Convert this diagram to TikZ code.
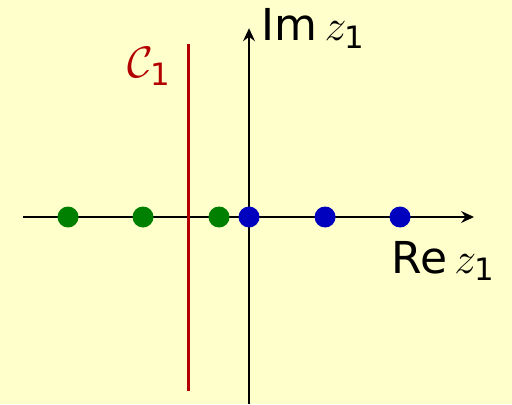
\RequirePackage{fix-cm}
\documentclass[tikz,border=0pt]{standalone}
\usepackage{amsmath,amssymb}
\usepackage{fontspec}
\setmainfont{DejaVu Sans}
\setsansfont{DejaVu Sans}
\usepackage{tikz}
\usepackage{xcolor}
\usetikzlibrary{arrows.meta,positioning,calc}
\definecolor{BgYellow}{RGB}{255,255,204}
\definecolor{ContourRed}{RGB}{179,0,0}
\definecolor{PoleGreen}{RGB}{0,128,0}
\definecolor{PoleBlue}{RGB}{0,0,191}
\tikzset{
  pole/.style={circle, inner sep=0pt, minimum size=10.5pt},
  axislabel/.style={inner sep=0pt, anchor=base west, font=\fontsize{22}{26}\selectfont}
}

\begin{document}
\begin{tikzpicture}[x=1.3268cm, y=1.3268cm]
      \fill[BgYellow] (-3.298,-2.477) rectangle (3.483,2.874);
      \useasboundingbox (-3.298,-2.477) rectangle (3.483,2.874);
      % axes
      \coordinate (reL) at (-2.99,0);
      \coordinate (reR) at (2.98,0);
      \coordinate (imB) at (0,-2.48);
      \coordinate (imT) at (0,2.50);
      \draw[-{Stealth[length=6.5pt, width=6pt, inset=2.2pt]}, line width=0.7pt] (reL)--(reR);
      \draw[-{Stealth[length=6.5pt, width=6pt, inset=2.2pt]}, line width=0.7pt] (imB)--(imT);
      \node[axislabel] (relabel) at (1.881,-0.742) {Re\,$z_{\text{1}}$};
      \node[axislabel] (imlabel) at (0.159,2.331) {Im\,$z_{\text{1}}$};
      % contour
      \coordinate (cB) at (-0.795,-2.305);
      \coordinate (cT) at (-0.795,2.291);
      \draw[ContourRed, line width=1.5pt] (cB)--(cT);
      \node[axislabel, ContourRed] (clabel) at (-1.616,1.841) {$\mathcal{C}_{\text{1}}$};
      % poles
      \node[pole, fill=PoleGreen] (g1) at (-2.397,0) {};
      \node[pole, fill=PoleGreen] (g2) at (-1.404,0) {};
      \node[pole, fill=PoleGreen] (g3) at (-0.397,0) {};
      \node[pole, fill=PoleBlue] (b0) at (0,0) {};
      \node[pole, fill=PoleBlue] (b1) at (1.007,0) {};
      \node[pole, fill=PoleBlue] (b2) at (2.0,0) {};
    \end{tikzpicture}
\end{document}
